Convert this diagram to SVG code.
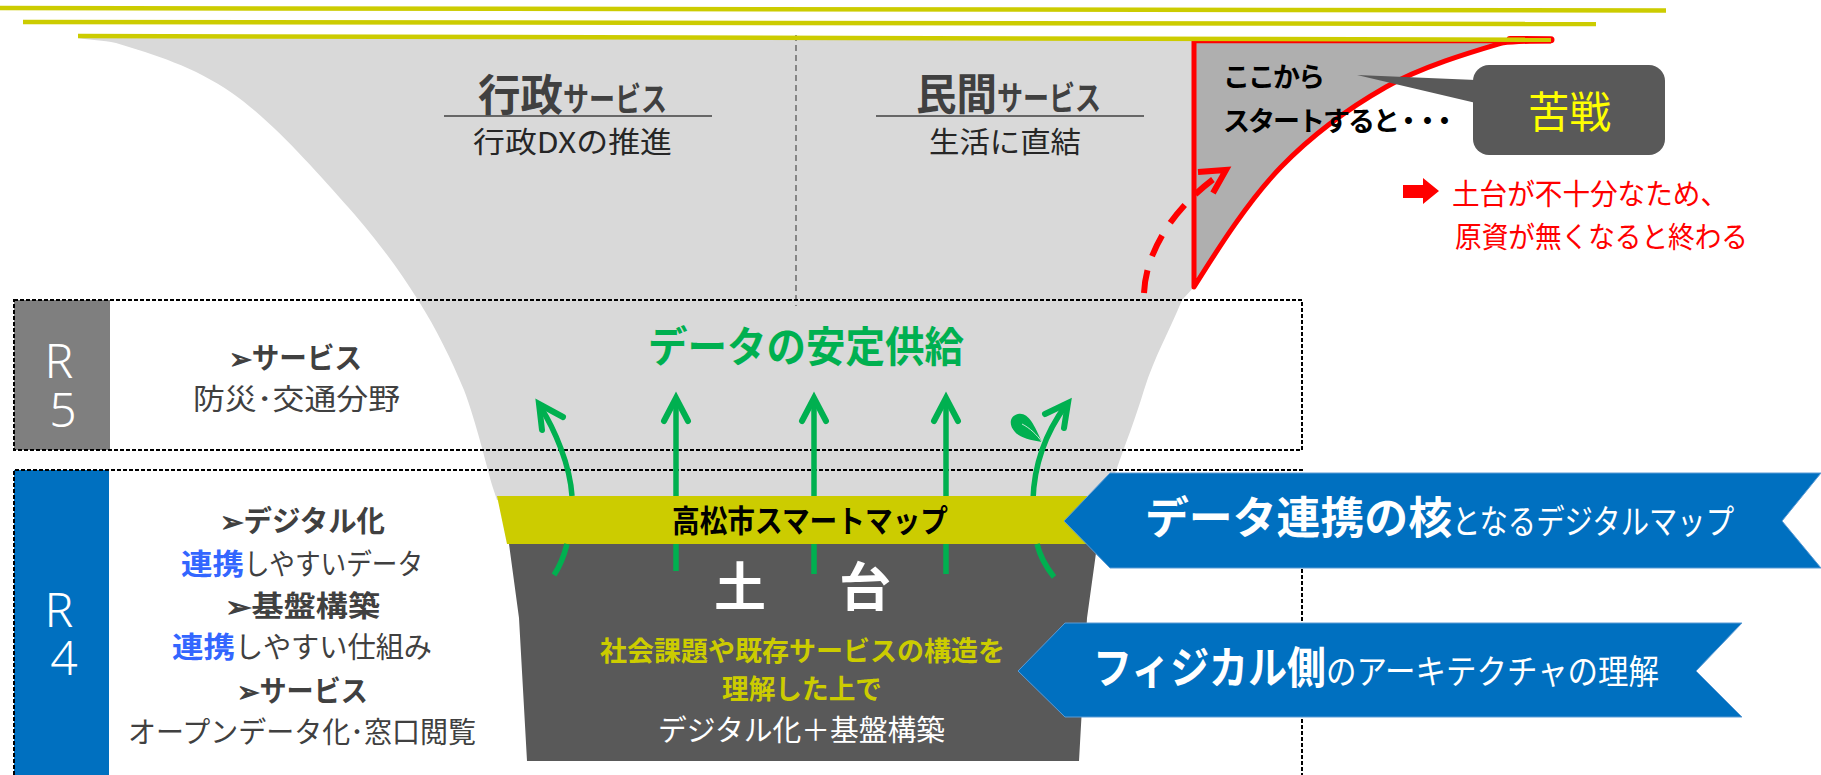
<svg xmlns="http://www.w3.org/2000/svg" width="1821" height="775" viewBox="0 0 1821 775">
<defs>
<style>
text{font-family:"Noto Sans CJK JP","Noto Sans",sans-serif;}
.b{font-weight:700}
.dk{fill:#404040}
.ink{fill:#262626}
.ybar{fill:none;stroke:#CCCC00;stroke-width:4.5}
.box{fill:none;stroke:#000;stroke-width:2;stroke-dasharray:4 2}
.gr{fill:none;stroke:#00B050;stroke-width:5.5}
.hd{fill:none;stroke:#00B050;stroke-width:6;stroke-linecap:round;stroke-linejoin:miter}
.rn{font-family:"Noto Sans",sans-serif;font-weight:300;font-size:48px;fill:#fff;text-anchor:middle}
.blue{fill:#0070C0;stroke:#5B9BD5;stroke-width:1}
</style>
</defs>
<g id="bars">
<path class="ybar" d="M0 8L1666 10.5"/>
<path class="ybar" d="M23 22L1596 24"/>
</g>
<g id="funnel">
<path fill="#D9D9D9" d="M78 38C90 40 103 40 116 43C155 55 193 66 232 93C271 120 317 172 348 207C379 242 399 270 418 300C437 330 451 359 464 390C476 421 488 472 493 488L497 500H1105L1117 468C1125 445 1135 420 1144 390C1155 355 1170 330 1182 300L1194 287C1219 247 1249 200 1281 167C1313 134 1349 108 1386 87C1423 66 1475 51 1502 43C1518 41 1535 40 1551 40Z"/>
</g>
<g id="r5">
<rect x="14" y="300" width="96" height="150" fill="#7F7F7F"/>
<text class="rn"><tspan x="59" y="378">R</tspan><tspan x="63" y="427">5</tspan></text>
<text class="b dk" font-size="29" x="229" y="369" textLength="133" lengthAdjust="spacingAndGlyphs">➢サービス</text>
<text class="dk" font-size="29" x="193" y="410" textLength="207" lengthAdjust="spacingAndGlyphs">防災･交通分野</text>
</g>
<g id="r4">
<rect x="14" y="470" width="95" height="305" fill="#0070C0"/>
<text class="rn"><tspan x="59" y="627">R</tspan><tspan x="64" y="675">4</tspan></text>
<text class="b dk" font-size="29" x="220" y="532" textLength="165" lengthAdjust="spacingAndGlyphs">➢デジタル化</text>
<text class="b" fill="#3366FF" font-size="29" x="181" y="575" textLength="63" lengthAdjust="spacingAndGlyphs">連携</text>
<text class="dk" font-size="29" x="244" y="575" textLength="179" lengthAdjust="spacingAndGlyphs">しやすいデータ</text>
<text class="b dk" font-size="29" x="225" y="617" textLength="155" lengthAdjust="spacingAndGlyphs">➢基盤構築</text>
<text class="b" fill="#3366FF" font-size="29" x="172" y="658" textLength="63" lengthAdjust="spacingAndGlyphs">連携</text>
<text class="dk" font-size="29" x="235" y="658" textLength="197" lengthAdjust="spacingAndGlyphs">しやすい仕組み</text>
<text class="b dk" font-size="29" x="237" y="702" textLength="131" lengthAdjust="spacingAndGlyphs">➢サービス</text>
<text class="dk" font-size="29" x="128" y="743" textLength="348" lengthAdjust="spacingAndGlyphs">オープンデータ化･窓口閲覧</text>
</g>
<g id="connectors">
<path d="M796 35V306" fill="none" stroke="#595959" stroke-width="1.3" stroke-dasharray="6 4"/>
<rect class="box" x="14" y="300" width="1288" height="150"/>
<path class="box" d="M14 775V470H1302V775"/>
<path class="gr" d="M572 496C570 465 555 430 540 406"/>
<path class="hd" d="M563 417L539 404L542 430"/>
<path class="gr" d="M676 500V398"/>
<path class="hd" d="M664 421L676 398L688 421"/>
<path class="gr" d="M814 500V398"/>
<path class="hd" d="M802 421L814 398L826 421"/>
<path class="gr" d="M946 500V398"/>
<path class="hd" d="M934 421L946 398L958 421"/>
<path class="gr" d="M1033 500C1034 465 1044 435 1066 405"/>
<path class="hd" d="M1045 414L1068 403L1064 428"/>
</g>
<g id="leaf">
<path d="M1042 442C1030 440 1020 438 1015 432C1008 424 1010 416 1018 414C1028 412 1034 424 1042 442Z" fill="#00B050"/>
<path d="M1022 424C1030 428 1037 435 1042 442" fill="none" stroke="#C9EBD6" stroke-width="1"/>
</g>
<g id="map-band">
<path fill="#CCCC00" d="M497 496H1100V544H507Z"/>
<path fill="#595959" d="M509 544H1100L1096 553L1087 618L1079 761H527L519 618Z"/>
<path class="gr" d="M567 544C564 556 560 566 554 575"/>
<path class="gr" d="M676 544V571"/>
<path class="gr" d="M814 544V574"/>
<path class="gr" d="M946 544V574"/>
<path class="gr" d="M1037 544C1040 556 1046 567 1054 577"/>
<text class="b" font-size="31" x="672" y="532" textLength="276" lengthAdjust="spacingAndGlyphs" fill="#000">高松市スマートマップ</text>
<text class="b" font-size="52" x="714" y="606" fill="#fff" letter-spacing="10.5">土　台</text>
<text class="b" font-size="27" x="600" y="661" textLength="405" lengthAdjust="spacingAndGlyphs" fill="#CCCC00">社会課題や既存サービスの構造を</text>
<text class="b" font-size="27" x="722" y="699" textLength="160" lengthAdjust="spacingAndGlyphs" fill="#CCCC00">理解した上で</text>
<text font-size="29" x="658" y="741" textLength="287" lengthAdjust="spacingAndGlyphs" fill="#fff">デジタル化＋基盤構築</text>
</g>
<g id="gov">
<text class="b dk" font-size="43" x="478" y="111" textLength="85" lengthAdjust="spacingAndGlyphs">行政</text>
<text class="b dk" font-size="33" x="563" y="111" textLength="104" lengthAdjust="spacingAndGlyphs">サービス</text>
<path d="M444 116H712" stroke="#404040" stroke-width="1.3"/>
<text class="ink" font-size="29" x="473" y="153" textLength="199" lengthAdjust="spacingAndGlyphs">行政DXの推進</text>
</g>
<g id="private">
<text class="b dk" font-size="43" x="916" y="110" textLength="81" lengthAdjust="spacingAndGlyphs">民間</text>
<text class="b dk" font-size="33" x="997" y="110" textLength="104" lengthAdjust="spacingAndGlyphs">サービス</text>
<path d="M876 116H1144" stroke="#404040" stroke-width="1.3"/>
<text class="ink" font-size="29" x="929" y="153" textLength="152" lengthAdjust="spacingAndGlyphs">生活に直結</text>
</g>
<g id="data-supply">
<text class="b" font-size="42" fill="#00B050" x="648" y="362" textLength="316" lengthAdjust="spacingAndGlyphs">データの安定供給</text>
</g>
<g id="risky-start">
<path fill="#AFAFAF" d="M1194 42H1502C1475 51 1423 66 1386 87C1349 108 1313 134 1281 167C1249 200 1219 247 1194 287Z"/>
<path d="M1194 42H1502" fill="none" stroke="#FF0000" stroke-width="2.5"/>
<path d="M1194 41V287C1219 247 1249 200 1281 167C1313 134 1349 108 1386 87C1423 66 1475 51 1502 43C1518 41 1535 41 1551 41" fill="none" stroke="#FF0000" stroke-width="5" stroke-linejoin="round"/>
<path d="M1510 39.500L1551 39.800" fill="none" stroke="#FF0000" stroke-width="7" stroke-linecap="round"/>
</g>
<g id="bar-top">
<path class="ybar" d="M78 36L1551 39.800"/>
</g>
<g id="risky-text">
<text class="b" font-size="27" fill="#000" x="1223 1248 1273 1298" y="87">ここから</text>
<text class="b" font-size="27" fill="#000" x="1223 1248 1273 1298 1323 1348 1373 1395 1414 1431" y="131">スタートすると・・・</text>
</g>
<g id="struggle">
<path fill="#595959" d="M1357 75L1476 80V103Z"/>
<rect x="1473" y="65" width="192" height="90" rx="16" fill="#595959"/>
<text font-size="43" x="1528" y="128" textLength="83" lengthAdjust="spacingAndGlyphs" fill="#FFFF00">苦戦</text>
</g>
<g id="result">
<path fill="#FF0000" d="M1403 185H1423V178L1439 191L1423 204V198H1403Z"/>
<text font-size="29" fill="#FF0000" x="1452" y="205" textLength="276" lengthAdjust="spacingAndGlyphs">土台が不十分なため、</text>
<text font-size="29" fill="#FF0000" x="1455" y="248" textLength="293" lengthAdjust="spacingAndGlyphs">原資が無くなると終わる</text>
</g>
<g id="red-arrow">
<path d="M1144 293C1146 250 1175 205 1222 173" fill="none" stroke="#FF0000" stroke-width="6" stroke-dasharray="23 15"/>
<path d="M1198 172L1226 170L1213 193" fill="none" stroke="#FF0000" stroke-width="6"/>
</g>
<g id="callout-map">
<path class="blue" d="M1064 521L1110 473H1821L1782 521L1821 568H1110Z"/>
<text class="b" font-size="44" fill="#fff" x="1145" y="534" textLength="307" lengthAdjust="spacingAndGlyphs">データ連携の核</text>
<text font-size="34" fill="#fff" x="1452" y="534" textLength="282" lengthAdjust="spacingAndGlyphs">となるデジタルマップ</text>
</g>
<g id="callout-physical">
<path class="blue" d="M1018 671L1065 623H1742L1696 671L1742 717H1065Z"/>
<text class="b" font-size="44" fill="#fff" x="1093" y="684" textLength="233" lengthAdjust="spacingAndGlyphs">フィジカル側</text>
<text font-size="34" fill="#fff" x="1326" y="684" textLength="333" lengthAdjust="spacingAndGlyphs">のアーキテクチャの理解</text>
</g>
</svg>
